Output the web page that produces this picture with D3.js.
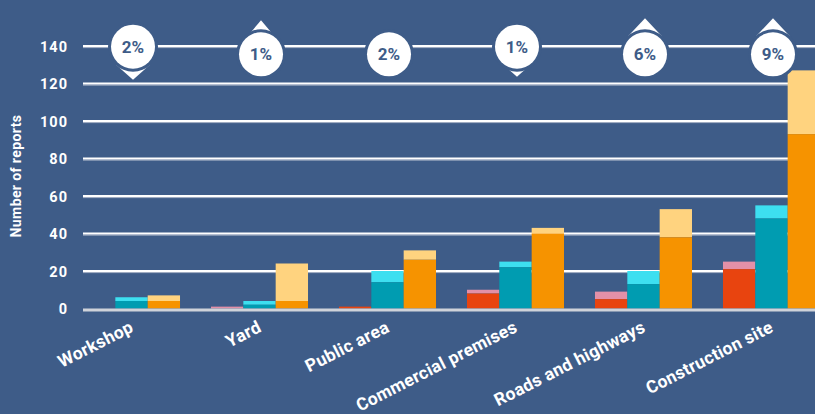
<!DOCTYPE html>
<html><head><meta charset="utf-8">
<script src="https://cdn.jsdelivr.net/npm/d3@7"></script>
<style>
html,body{margin:0;padding:0;background:#3e5c88;}
svg{display:block;}
text{font-family:Roboto, "Open Sans", sans-serif;font-weight:700;}
</style></head>
<body>
<svg id="chart" width="815" height="414"></svg>
<script>
const categories = ["Workshop","Yard","Public area","Commercial premises","Roads and highways","Construction site"];
// each series: base (darker) value and total (lighter top) value
const redBase   = [0, 0, 1, 8, 5, 21];
const redTotal  = [0, 1, 1, 10, 9, 25];
const tealBase  = [4, 2, 14, 22, 13, 48];
const tealTotal = [6, 4, 20, 25, 20, 55];
const orangeBase  = [4, 4, 26, 40, 38, 93];
const orangeTotal = [7, 24, 31, 43, 53, 127];
const badgeLabels = ["2%","1%","2%","1%","6%","9%"];
const badgeDir    = ["down","up","none","down","up","up"];
const badgeSize   = ["big","small","none","small","big","big"];
const yTicks = [0,20,40,60,80,100,120,140];

const W = 815, H = 414, bg = "#3e5c88";
const svg = d3.select("#chart");
svg.append("rect").attr("width",W).attr("height",H).attr("fill",bg);

const y = d3.scaleLinear().domain([0,140]).range([308.5,46]);
const x = d3.scaleBand().domain(categories).range([83,820]).paddingInner(0.242).paddingOuter(0);
const series = ["red","teal","orange"];
const xs = d3.scaleBand().domain(series).range([0,x.bandwidth()]).padding(0);

// gridlines
const grid = svg.append("g");
yTicks.filter(t=>t>0).forEach(t=>{
  grid.append("line").attr("x1",83).attr("x2",W).attr("y1",y(t)+1.6).attr("y2",y(t)+1.6)
    .attr("stroke","#aab6c8").attr("stroke-width",1);
  grid.append("line").attr("x1",83).attr("x2",W).attr("y1",y(t)).attr("y2",y(t))
    .attr("stroke","#ffffff").attr("stroke-width",2);
});

// y tick labels
const yAxis = d3.axisLeft(y).tickValues(yTicks).tickSize(0).tickPadding(0);
const ga = svg.append("g").attr("transform","translate(68,0)").call(yAxis);
ga.select(".domain").remove();
ga.selectAll("text").attr("fill","#fff").attr("font-size",14.5).attr("font-family","Roboto, sans-serif")
  .attr("font-weight",700).attr("letter-spacing","1px").attr("dy","0.35em");

// y axis title
svg.append("text").attr("transform","translate(21,176) rotate(-90)").attr("text-anchor","middle")
  .attr("fill","#fff").attr("font-size",14).attr("font-weight",700).attr("letter-spacing","0.4px").text("Number of reports");

// bars
const colors = {
  red:["#e8440f","#e290a8"],
  teal:["#009cb1","#3ddff0"],
  orange:["#f69300","#ffd37f"]
};
const data = {
  red:[redBase,redTotal], teal:[tealBase,tealTotal], orange:[orangeBase,orangeTotal]
};
const bars = svg.append("g");
categories.forEach((c,i)=>{
  series.forEach(s=>{
    const bx = x(c)+xs(s), bw = xs.bandwidth();
    const base = data[s][0][i], total = data[s][1][i];
    if (total>base) bars.append("rect").attr("x",bx).attr("width",bw)
      .attr("y",y(total)).attr("height",y(base)-y(total)).attr("fill",colors[s][1]);
    if (base>0) bars.append("rect").attr("x",bx).attr("width",bw)
      .attr("y",y(base)).attr("height",y(0)-y(base)).attr("fill",colors[s][0]);
  });
});

// baseline
svg.append("line").attr("x1",83).attr("x2",W).attr("y1",y(0)+1.5).attr("y2",y(0)+1.5)
  .attr("stroke","#cfd3da").attr("stroke-width",3);

// x labels
categories.forEach((c,i)=>{
  const cx = x(c)+x.bandwidth()/2;
  svg.append("text").attr("transform",`translate(${cx+3},331) rotate(-27)`)
    .attr("text-anchor","end").attr("fill","#fff").attr("font-size",17.5).attr("font-weight",700)
    .attr("letter-spacing","0.3px").text(c);
});

// badges
const badges = svg.append("g");
categories.forEach((c,i)=>{
  const cx = x(c)+x.bandwidth()/2+1.5;
  const dir = badgeDir[i];
  const cy = dir==="down" ? y(140)+0.7 : 54.3;
  const big = badgeSize[i]==="big";
  const hw = big?16.9:13.5;
  if (dir==="down") {
    const apex = cy + (big?33:30);
    badges.append("path").attr("d",`M${cx-hw},${cy+18}L${cx+hw},${cy+18}L${cx},${apex}Z`).attr("fill","#fff");
  } else if (dir==="up") {
    const apex = cy - (big?36:34);
    badges.append("path").attr("d",`M${cx-hw},${cy-18}L${cx+hw},${cy-18}L${cx},${apex}Z`).attr("fill","#fff");
  }
  badges.append("circle").attr("cx",cx).attr("cy",cy).attr("r",25).attr("fill",bg);
  badges.append("circle").attr("cx",cx).attr("cy",cy).attr("r",22).attr("fill","#fff");
  badges.append("text").attr("x",cx).attr("y",cy).attr("dy","0.36em").attr("text-anchor","middle")
    .attr("fill",bg).attr("font-size",17).attr("font-weight",700).text(badgeLabels[i]);
});
</script>
</body></html>
